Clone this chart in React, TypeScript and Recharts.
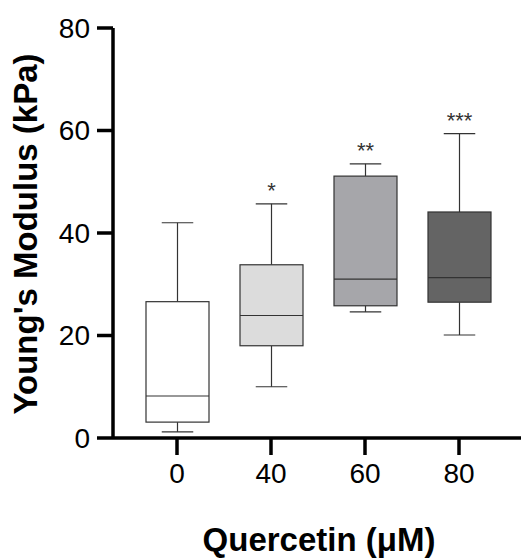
import { ComposedChart, Bar, XAxis, YAxis, Label } from "recharts"

const doses = ["0", "40", "60", "80"]
const mins = [1.2, 10.0, 24.6, 20.1]
const q1s = [3.1, 18.0, 25.8, 26.5]
const medians = [8.2, 23.9, 31.0, 31.3]
const q3s = [26.6, 33.8, 51.1, 44.1]
const maxs = [42.0, 45.7, 53.5, 59.4]
const stars = ["", "*", "**", "***"]
const yTicks = [0, 20, 40, 60, 80]

const fills = ["#ffffff", "#dcdcdc", "#a6a6aa", "#646464"]
const font = "'Liberation Sans', Arial, sans-serif"

const data = doses.map((dose, i) => ({
  dose,
  range: [mins[i], maxs[i]],
  min: mins[i],
  q1: q1s[i],
  median: medians[i],
  q3: q3s[i],
  max: maxs[i],
  star: stars[i],
}))

// the bar spans min..max, everything else is placed inside that span
function BoxShape(props: any) {
  const { x, y, width, height, payload, index } = props
  const top = Math.min(y, y + height)
  const h = Math.abs(height)
  const { min, max } = payload
  const py = (v: number) => top + (h * (max - v)) / (max - min)
  const cx = x + width / 2
  const cap = width / 2
  const stroke = "#333"
  return (
    <g>
      <line x1={cx} x2={cx} y1={py(max)} y2={py(payload.q3)} stroke={stroke} strokeWidth={1.2} />
      <line x1={cx} x2={cx} y1={py(payload.q1)} y2={py(min)} stroke={stroke} strokeWidth={1.2} />
      <line x1={cx - cap / 2} x2={cx + cap / 2} y1={py(max)} y2={py(max)} stroke={stroke} strokeWidth={1.2} />
      <line x1={cx - cap / 2} x2={cx + cap / 2} y1={py(min)} y2={py(min)} stroke={stroke} strokeWidth={1.2} />
      <rect
        x={x}
        y={py(payload.q3)}
        width={width}
        height={py(payload.q1) - py(payload.q3)}
        fill={fills[index]}
        stroke={stroke}
        strokeWidth={1.2}
      />
      <line x1={x} x2={x + width} y1={py(payload.median)} y2={py(payload.median)} stroke={stroke} strokeWidth={1.2} />
      {payload.star && (
        <text x={cx} y={py(max) - 6} textAnchor="middle" fontSize={22} fill="#333" fontFamily={font}>
          {payload.star}
        </text>
      )}
    </g>
  )
}

export default function App() {
  return (
    <div style={{ position: "absolute", left: 0, top: 0, background: "#fff" }}>
      <ComposedChart width={523} height={560} data={data} margin={{ top: 28, right: 2, left: 0, bottom: 0 }}>
        <XAxis
          dataKey="dose"
          height={122}
          padding={{ left: 17, right: 15 }}
          stroke="#000"
          axisLine={{ strokeWidth: 3.5 }}
          tickLine={{ strokeWidth: 3.5 }}
          tickSize={17}
          tickMargin={8}
          tick={{ fill: "#000", fontSize: 28, fontFamily: font }}
        >
          <Label
            content={(p: any) => (
              <text
                x={p.viewBox.x + p.viewBox.width / 2 + 2}
                y={p.viewBox.y + 113}
                textAnchor="middle"
                fontSize={33}
                fontWeight="bold"
                fontFamily={font}
                fill="#000"
              >
                Quercetin (μM)
              </text>
            )}
          />
        </XAxis>
        <YAxis
          width={113}
          domain={[0, 80]}
          ticks={yTicks}
          stroke="#000"
          axisLine={{ strokeWidth: 3.5 }}
          tickLine={{ strokeWidth: 3.5 }}
          tickSize={16}
          tickMargin={7}
          tick={{ fill: "#000", fontSize: 28, fontFamily: font }}
        >
          <Label
            content={(p: any) => {
              const cx = 37
              const cy = p.viewBox.y + p.viewBox.height / 2 + 1
              return (
                <text
                  x={cx}
                  y={cy}
                  transform={`rotate(-90 ${cx} ${cy})`}
                  textAnchor="middle"
                  fontSize={33}
                  fontWeight="bold"
                  fontFamily={font}
                  fill="#000"
                >
                  Young's Modulus (kPa)
                </text>
              )
            }}
          />
        </YAxis>
        <Bar dataKey="range" barSize={63} shape={<BoxShape />} isAnimationActive={false} />
      </ComposedChart>
    </div>
  )
}
